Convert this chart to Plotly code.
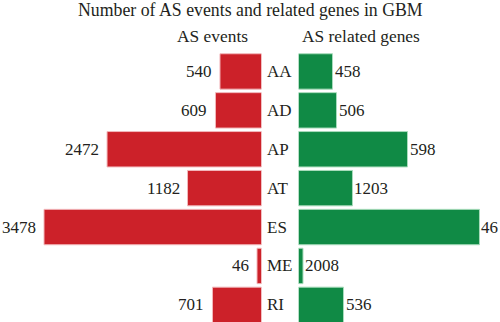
import plotly.graph_objects as go

categories = ["AA", "AD", "AP", "AT", "ES", "ME", "RI"]
# bar lengths (common scale)
events_values = [664, 736, 2470, 1183, 3478, 72, 784]
genes_values = [544, 608, 1743, 863, 2894, 72, 720]
# printed labels
events_labels = ["540", "609", "2472", "1182", "3478", "46", "701"]
genes_labels = ["458", "506", "598", "1203", "46", "2008", "536"]

RED = "#cc2129"
GREEN = "#108a45"
TXT = "#231f20"
FONT = "Liberation Serif"
FS = 17

fig = go.Figure()
fig.add_trace(go.Bar(
    y=categories, x=events_values, orientation="h",
    marker=dict(color=RED, line=dict(color="#f2b8bb", width=1)),
    xaxis="x", yaxis="y", showlegend=False, hoverinfo="skip",
))
fig.add_trace(go.Bar(
    y=categories, x=genes_values, orientation="h",
    marker=dict(color=GREEN, line=dict(color="#a9dcbc", width=1)),
    xaxis="x2", yaxis="y", showlegend=False, hoverinfo="skip",
))

W, H, T = 500, 322, 52
plot_h = H - T

annotations = []
for c, v, t in zip(categories, events_values, events_labels):
    annotations.append(dict(x=v, y=c, xref="x", yref="y", text=t, showarrow=False,
                            xanchor="right", yanchor="middle", xshift=-6,
                            font=dict(family=FONT, size=FS, color=TXT)))
for c, v, t in zip(categories, genes_values, genes_labels):
    annotations.append(dict(x=v, y=c, xref="x2", yref="y", text=t, showarrow=False,
                            xanchor="left", yanchor="middle", xshift=0,
                            font=dict(family=FONT, size=FS, color=TXT)))
for c in categories:
    annotations.append(dict(x=267 / W, y=c, xref="paper", yref="y", text=c, showarrow=False,
                            xanchor="left", yanchor="middle", xshift=-2,
                            font=dict(family=FONT, size=FS, color=TXT)))

def py(pix):
    return (H - pix) / plot_h

annotations.append(dict(x=250.5 / W, y=py(10), xref="paper", yref="paper",
                        text="Number of AS events and related genes in GBM", showarrow=False,
                        xanchor="center", yanchor="middle",
                        font=dict(family=FONT, size=17.8, color=TXT)))
annotations.append(dict(x=212.5 / W, y=py(35.5), xref="paper", yref="paper",
                        text="AS events", showarrow=False, xanchor="center", yanchor="middle",
                        font=dict(family=FONT, size=17.4, color=TXT)))
annotations.append(dict(x=360.5 / W, y=py(35.5), xref="paper", yref="paper",
                        text="AS related genes", showarrow=False, xanchor="center", yanchor="middle",
                        font=dict(family=FONT, size=17.4, color=TXT)))

scale = 217.5 / 3478  # px per unit
fig.update_layout(
    width=W, height=H,
    margin=dict(l=0, r=0, t=T, b=0, pad=0),
    paper_bgcolor="white", plot_bgcolor="white",
    bargap=0.09,
    xaxis=dict(domain=[0, 261.5 / W], range=[261.5 / scale, 0], visible=False, fixedrange=True),
    xaxis2=dict(domain=[298.5 / W, 1], range=[0, 201.5 / scale], visible=False, anchor="y"),
    yaxis=dict(categoryorder="array", categoryarray=categories,
               range=[plot_h / 38.9 - 0.5, -0.5], visible=False),
    annotations=annotations,
)

fig.write_html("out.html")
